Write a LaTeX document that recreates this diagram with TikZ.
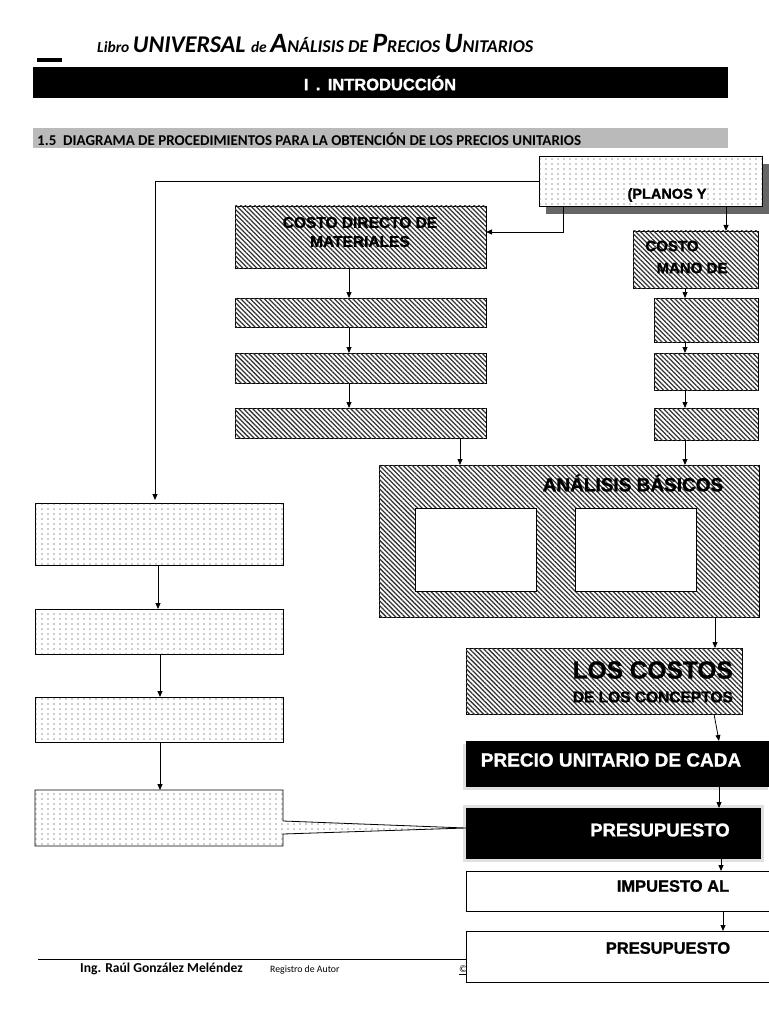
\documentclass[tikz,border=0pt]{standalone}
\usepackage{fontspec}
\setmainfont{Liberation Sans}[BoldFeatures={FakeBold=1.2}]
\newfontfamily\carl{Carlito}
\usetikzlibrary{patterns,patterns.meta,arrows.meta}
\tikzdeclarepattern{
  name=sparsedots,
  type=uncolored,
  bottom left={(-1pt,-1pt)},
  top right={(5pt,4pt)},
  tile size={(6pt,5pt)},
  code={\fill (0,0) circle (0.55pt);}
}
\tikzset{
  base/.style={draw=black,line width=0.8pt,inner sep=0pt,outer sep=0pt,anchor=north west},
  hatchbox/.style={base,fill=white,postaction={pattern={Lines[angle=-45,distance=3.3pt,line width=1.25pt]},pattern color=black!80}},
  dotbox/.style={base,fill=white,postaction={pattern=sparsedots,pattern color=black!80}},
  whitebox/.style={base,fill=white},
  blackbox/.style={base,fill=black},
  lbl/.style={font=\bfseries,inner sep=0pt,text=black},
  wlbl/.style={font=\bfseries,inner sep=0pt,text=white},
  arr/.style={-{Triangle[length=6pt,width=5pt]},line width=0.8pt},
  ln/.style={line width=0.8pt}
}
\begin{document}
\begin{tikzpicture}[x=1pt,y=-1pt]
\useasboundingbox (0,0) rectangle (768,1024);
\fill[white] (0,0) rectangle (768,1024);
% header
\node[inner sep=0pt,anchor=base west] (hdr) at (97,53) {\carl\bfseries\itshape
  {\fontsize{15.5}{15}\selectfont Libro }{\fontsize{24}{24}\selectfont UNIVERSAL }{\fontsize{15.5}{15}\selectfont de }{\fontsize{28}{28}\selectfont A}{\fontsize{18}{18}\selectfont NÁLISIS DE }{\fontsize{28}{28}\selectfont P}{\fontsize{18}{18}\selectfont RECIOS }{\fontsize{28}{28}\selectfont U}{\fontsize{18}{18}\selectfont NITARIOS}};
\fill[black] (37,58) rectangle (62,62);
\node[blackbox,draw=none,minimum width=695pt,minimum height=31pt] (bar) at (33,67) {};
\node[wlbl,font=\bfseries\fontsize{16.5}{16.5}\selectfont] (intro) at (380,83) {I\, .\, INTRODUCCIÓN};
\node[base,draw=none,fill=black!27,minimum width=695pt,minimum height=20pt] (sec) at (33,128) {};
\node[inner sep=0pt,anchor=west] (sect) at (37,139) {\carl\bfseries\fontsize{15}{15}\selectfont 1.5\ \ DIAGRAMA DE PROCEDIMIENTOS PARA LA OBTENCIÓN DE LOS PRECIOS UNITARIOS};
% top box
\fill[black!60] (546,164) rectangle (770,214);
\node[dotbox,minimum width=223pt,minimum height=50pt] (top) at (539,156) {};
\node[lbl,font=\bfseries\fontsize{14.5}{14.5}\selectfont,fill=white,inner sep=0.5pt] (topt) at (667,195) {(PLANOS Y};
% materiales column
\node[hatchbox,minimum width=251pt,minimum height=62pt] (cdm) at (235,206) {};
\node[lbl,font=\bfseries\fontsize{15.5}{18}\selectfont,align=center] (cdmt) at (360,232) {COSTO DIRECTO DE\\[1pt]MATERIALES};
\node[hatchbox,minimum width=251pt,minimum height=29pt] (m1) at (235,298) {};
\node[hatchbox,minimum width=251pt,minimum height=30pt] (m2) at (235,353) {};
\node[hatchbox,minimum width=251pt,minimum height=30pt] (m3) at (235,408) {};
% mano de obra column
\node[hatchbox,minimum width=125pt,minimum height=57pt] (cmo) at (633,231) {};
\node[lbl,font=\bfseries\fontsize{15}{15}\selectfont] (cmot1) at (672,246) {COSTO};
\node[lbl,font=\bfseries\fontsize{15}{15}\selectfont] (cmot2) at (692,268) {MANO DE};
\node[hatchbox,minimum width=104pt,minimum height=44pt] (o1) at (654,298) {};
\node[hatchbox,minimum width=104pt,minimum height=37pt] (o2) at (654,353) {};
\node[hatchbox,minimum width=104pt,minimum height=32pt] (o3) at (654,408) {};
% analisis basicos
\node[hatchbox,minimum width=380pt,minimum height=152pt] (ab) at (379,465) {};
\node[lbl,font=\bfseries\fontsize{19}{19}\selectfont] (abt) at (633,483) {ANÁLISIS BÁSICOS};
\node[whitebox,minimum width=121pt,minimum height=83pt] (ab1) at (415,508) {};
\node[whitebox,minimum width=121pt,minimum height=83pt] (ab2) at (575,508) {};
% los costos
\node[hatchbox,minimum width=276pt,minimum height=66pt] (lc) at (466,648) {};
\node[lbl,font=\bfseries\fontsize{24.5}{24}\selectfont,anchor=east] (lct1) at (733,670) {LOS COSTOS};
\node[lbl,font=\bfseries\fontsize{15.5}{16}\selectfont,anchor=east] (lct2) at (733,697) {DE LOS CONCEPTOS};
% precio unitario
\fill[black!12] (463,744) rectangle (768,790);
\node[blackbox,minimum width=305pt,minimum height=45pt] (pu) at (466,741) {};
\node[wlbl,font=\bfseries\fontsize{19}{19}\selectfont] (put) at (611,760) {PRECIO UNITARIO DE CADA};
% presupuesto negro
\fill[black!12] (463,805) rectangle (764,862);
\node[blackbox,minimum width=294pt,minimum height=50pt] (pre) at (466,808) {};
\node[wlbl,font=\bfseries\fontsize{18.5}{18.5}\selectfont] (pret) at (660,830) {PRESUPUESTO};
% impuesto
\node[whitebox,minimum width=305pt,minimum height=40pt] (imp) at (466,871) {};
\node[lbl,font=\bfseries\fontsize{16.5}{16.5}\selectfont] (impt) at (673,886) {IMPUESTO AL};
% footer line (behind last box)
\draw[line width=0.6pt] (38,959) -- (480,959);
\node[inner sep=0pt,anchor=west] (ftr1) at (80,969) {\carl\bfseries\fontsize{13.6}{13.6}\selectfont Ing. Raúl González Meléndez};
\node[inner sep=0pt,anchor=west] (ftr2) at (270,970) {\carl\fontsize{9.8}{10}\selectfont Registro de Autor};
\node[inner sep=0pt,anchor=west] (ftr3) at (459,970) {\carl\fontsize{10}{10}\selectfont\underline{©}};
% presupuesto final
\node[whitebox,minimum width=305pt,minimum height=51pt] (pf) at (466,931) {};
\node[lbl,font=\bfseries\fontsize{16.5}{16.5}\selectfont] (pft) at (668,948) {PRESUPUESTO};
% left column
\node[dotbox,minimum width=248pt,minimum height=62pt] (l1) at (35,503) {};
\node[dotbox,minimum width=248pt,minimum height=45pt] (l2) at (35,609) {};
\node[dotbox,minimum width=248pt,minimum height=45pt] (l3) at (35,697) {};
\coordinate (tipw) at (466,828);
\draw[line width=0.8pt,fill=white,postaction={pattern=sparsedots,pattern color=black!80}]
  (35,790) -- (283,790) -- (283,821) -- (tipw) -- (283,834) -- (283,846) -- (35,846) -- cycle;
\node[inner sep=0pt,outer sep=0pt,minimum width=248pt,minimum height=56pt,anchor=north west] (l4) at (35,790) {};
% connectors
\coordinate (c1) at (155,181);
\draw[arr] (top.west|-c1) -- (c1) -- (155,500);
\coordinate (c2) at (563,232);
\draw[arr] (top.south-|c2) -- (c2) -- (cdm.east|-c2);
\draw[arr] (top.south-|726,0) -- (cmo.north-|726,0);
\draw[arr] (cdm.south-|349,0) -- (m1.north-|349,0);
\draw[arr] (m1.south-|349,0) -- (m2.north-|349,0);
\draw[arr] (m2.south-|349,0) -- (m3.north-|349,0);
\draw[arr] (cmo.south-|685,0) -- (o1.north-|685,0);
\draw[arr] (o1.south-|685,0) -- (o2.north-|685,0);
\draw[arr] (o2.south-|685,0) -- (o3.north-|685,0);
\draw[arr] (m3.south-|460,0) -- (ab.north-|460,0);
\draw[arr] (o3.south-|685,0) -- (ab.north-|685,0);
\draw[arr] (ab.south-|715,0) -- (lc.north-|715,0);
\draw[arr] (lc.south-|714,0) -- (pu.north-|719,0);
\draw[arr] (pu.south-|719,0) -- (pre.north-|719,0);
\draw[arr] (pre.south-|721,0) -- (imp.north-|721,0);
\draw[arr] (imp.south-|723,0) -- (pf.north-|723,0);
\draw[arr] (l1.south-|158,0) -- (l2.north-|158,0);
\draw[arr] (l2.south-|160,0) -- (l3.north-|160,0);
\draw[arr] (l3.south-|160,0) -- (l4.north-|160,0);
\end{tikzpicture}
\end{document}
